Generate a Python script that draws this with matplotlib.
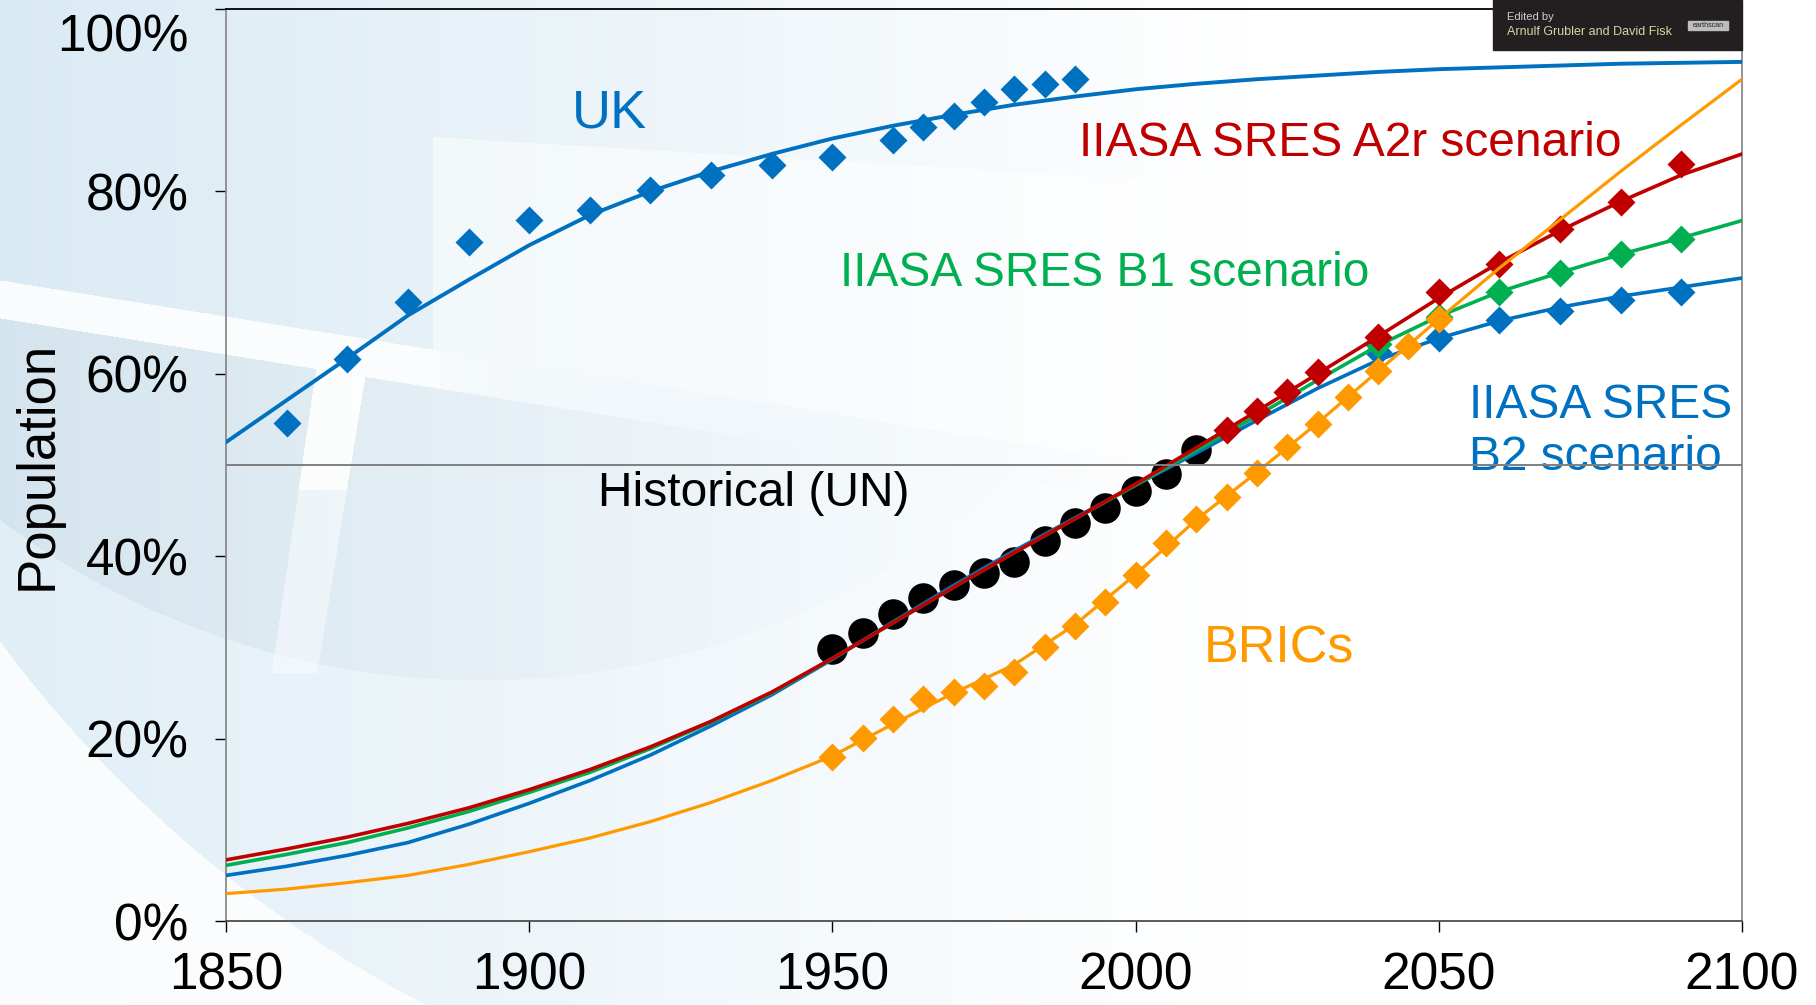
import numpy as np
import matplotlib
matplotlib.use("Agg")
import matplotlib.pyplot as plt
from matplotlib.patches import Rectangle
from matplotlib.transforms import ScaledTranslation

plt.rcParams['font.family'] = ['Liberation Sans', 'DejaVu Sans']

W, H = 1816, 1005

# trend lines, read every 10 years
line_years = list(range(1850, 2101, 10))
uk_line = [52.5, 57.1, 61.7, 66.4, 70.3, 74.1, 77.4, 80.0, 82.2, 84.1, 85.8, 87.2,
           88.4, 89.5, 90.4, 91.2, 91.8, 92.3, 92.7, 93.1, 93.4, 93.6, 93.8, 94.0,
           94.1, 94.2]
a2r_line = [6.7, 7.9, 9.2, 10.7, 12.4, 14.4, 16.6, 19.1, 21.9, 25.1, 28.8, 32.7,
            36.6, 40.4, 44.1, 47.9, 51.9, 55.9, 60.0, 64.1, 68.3, 72.2, 75.7, 78.9,
            81.8, 84.1]
b1_line = [6.1, 7.3, 8.6, 10.2, 12.0, 14.1, 16.3, 18.9, 21.8, 25.0, 28.8, 32.7,
           36.6, 40.4, 44.1, 47.8, 51.6, 55.4, 59.3, 63.1, 66.3, 69.0, 71.1, 73.1,
           74.9, 76.8]
b2_line = [5.0, 6.0, 7.2, 8.6, 10.6, 12.9, 15.4, 18.2, 21.4, 24.8, 28.7, 32.8,
           36.8, 40.6, 44.2, 47.8, 51.3, 54.9, 58.4, 61.5, 63.9, 65.8, 67.3, 68.5,
           69.5, 70.5]
brics_line = [3.0, 3.5, 4.2, 5.0, 6.2, 7.6, 9.1, 10.9, 13.0, 15.4, 18.1, 21.6,
              25.0, 28.1, 32.5, 38.0, 44.0, 49.2, 54.6, 60.3, 66.0, 71.6, 76.9,
              82.2, 87.3, 92.3]

# data points
uk_years = [1860, 1870, 1880, 1890, 1900, 1910, 1920, 1930, 1940, 1950, 1960,
            1965, 1970, 1975, 1980, 1985, 1990]
uk_pts = [54.6, 61.6, 67.9, 74.5, 76.9, 78.0, 80.1, 81.8, 82.9, 83.8, 85.6,
          87.1, 88.3, 89.8, 91.2, 91.8, 92.3]

hist_years = list(range(1950, 2011, 5))
hist_pts = [29.8, 31.6, 33.7, 35.4, 36.8, 38.2, 39.4, 41.7, 43.6, 45.3, 47.1,
            49.0, 51.6]

brics_years = list(range(1950, 2051, 5))
brics_pts = [18.0, 20.1, 22.1, 24.3, 25.1, 25.8, 27.3, 30.0, 32.4, 35.0, 37.9,
             41.4, 44.1, 46.5, 49.1, 52.0, 54.5, 57.5, 60.3, 63.1, 66.0]

a2r_years = [2015, 2020, 2025, 2030, 2040, 2050, 2060, 2070, 2080, 2090]
a2r_pts = [53.8, 55.9, 58.0, 60.2, 64.0, 69.0, 72.0, 75.9, 78.8, 83.0]

b1_years = [2040, 2050, 2060, 2070, 2080, 2090]
b1_pts = [63.3, 66.2, 69.0, 71.0, 73.1, 74.8]

b2_years = [2040, 2050, 2060, 2070, 2080, 2090]
b2_pts = [62.4, 63.9, 65.9, 66.9, 68.1, 69.0]

x_ticks = [1850, 1900, 1950, 2000, 2050, 2100]
y_ticks = [0, 20, 40, 60, 80, 100]

BLUE = '#0070c0'
RED = '#c00000'
GREEN = '#00b050'
ORANGE = '#ff9900'


def slide_background():
    yy, xx = np.mgrid[0:H, 0:W].astype(float)
    base = np.array([0.855, 0.918, 0.957])
    t = np.clip(xx / 1250.0, 0, 1)[..., None]
    img = base * (1 - t) + t

    def lighten(mask, w):
        if np.ndim(w):
            w = w[mask][:, None]
        img[mask] = img[mask] * (1 - w) + w

    band_top = 280 + 0.16 * xx
    band_bot = 318 + 0.16 * xx
    quad = (xx > 432) & (yy > 137 + 0.06 * (xx - 440)) & (yy < band_top)
    lighten(quad, 0.5)
    band = (yy > band_top) & (yy < band_bot)
    band_w = np.where(xx < 440, 0.85, 0.6 * np.clip((850 - xx) / 410.0, 0, 1))
    lighten(band, band_w)
    bowl = ((xx - 480) ** 2 + (yy + 120) ** 2 < 800 ** 2) & (yy > band_bot)
    outer = (xx - 1000) ** 2 + (yy + 100) ** 2 < 1245 ** 2
    fade = np.clip(1 - xx / 850.0, 0, 1)[..., None]
    dark = img * 0.975
    img = np.where(bowl[..., None], img * (1 - fade) + dark * fade, img)
    lighten(outer & ~bowl & (yy > band_bot), 0.2)
    lighten(~outer, 0.85)
    stripe = ((xx > 313 - 0.146 * (yy - 387)) & (xx < 365 - 0.162 * (yy - 375))
              & (yy > band_bot) & (yy < 673))
    lighten(stripe & (yy < 490), 0.9)
    lighten(stripe & (yy >= 490), 0.45)
    return np.clip(img, 0, 1)


fig = plt.figure(figsize=(W / 100, H / 100), dpi=100)
bg = fig.add_axes([0, 0, 1, 1], zorder=-5)
bg.imshow(slide_background(), aspect='auto', interpolation='bilinear')
bg.axis('off')

left, right, top, bottom = 226, 1742, 9, 921
ax = fig.add_axes([left / W, 1 - bottom / H, (right - left) / W, (bottom - top) / H])
ax.set_facecolor('none')

# historical points sit under the trend lines
ax.plot(hist_years, hist_pts, 'o', color='black', ms=22, mec='none', zorder=2)

ax.plot(line_years, uk_line, color=BLUE, lw=2.8, zorder=3)
ax.plot(uk_years, uk_pts, 'D', color=BLUE, ms=14.5, mec='none', zorder=3)

ax.plot(line_years, b2_line, color=BLUE, lw=2.6, zorder=3)
ax.plot(b2_years, b2_pts, 'D', color=BLUE, ms=14.5, mec='none', zorder=3)

ax.plot(line_years, b1_line, color=GREEN, lw=2.6, zorder=4)
ax.plot(b1_years, b1_pts, 'D', color=GREEN, ms=14.5, mec='none', zorder=4)

ax.plot(line_years, a2r_line, color=RED, lw=2.6, zorder=5)
ax.plot(a2r_years, a2r_pts, 'D', color=RED, ms=14.5, mec='none', zorder=5)

ax.plot(brics_years, brics_pts, 'D', color=ORANGE, ms=14.5, mec='none', zorder=6)
ax.plot(line_years, brics_line, color=ORANGE, lw=2.3, zorder=6)

ax.axhline(50, color='#7f7f7f', lw=1.4, zorder=8)

ax.set_xlim(1850, 2100)
ax.set_ylim(0, 100)
ax.set_xticks(x_ticks)
ax.set_xticklabels([str(v) for v in x_ticks])
ax.set_yticks(y_ticks)
ax.set_yticklabels([f'{v}%' for v in y_ticks])
ax.tick_params(axis='x', direction='out', length=8, width=1, pad=14, labelsize=37)
ax.tick_params(axis='y', direction='out', length=8, width=1, pad=19, labelsize=37)
# the top label is pushed down to stay inside the slide
top_lbl = ax.get_yticklabels()[-1]
top_lbl.set_transform(top_lbl.get_transform()
                      + ScaledTranslation(0, -0.24, fig.dpi_scale_trans))

for side in ('left', 'right'):
    ax.spines[side].set_color('#8a8a8a')
    ax.spines[side].set_linewidth(1.3)
ax.spines['bottom'].set_color('#4d4d4d')
ax.spines['bottom'].set_linewidth(1.3)
ax.spines['top'].set_color('black')
ax.spines['top'].set_linewidth(1.3)

ax.set_ylabel('Population', fontsize=38)
ax.yaxis.set_label_coords(-0.108, 0.5)

ax.text(1907.1, 88.5, 'UK', color=BLUE, fontsize=39, va='center')
ax.text(1990.7, 85.3, 'IIASA SRES A2r scenario', color=RED, fontsize=34.5, va='center')
ax.text(1951.3, 71.0, 'IIASA SRES B1 scenario', color=GREEN, fontsize=34.5, va='center')
ax.text(2055.0, 53.7, 'IIASA SRES\nB2 scenario', color=BLUE, fontsize=34.5, va='center',
        zorder=1)
ax.text(1911.4, 46.9, 'Historical (UN)', color='black', fontsize=34.5, va='center')
ax.text(2011.3, 29.8, 'BRICs', color=ORANGE, fontsize=37.5, va='center')

# book credit box in the top right corner
fig.add_artist(Rectangle((1493 / W, 1 - 50 / H), (1742 - 1493) / W, 50 / H,
                         transform=fig.transFigure, color='#231f20', zorder=10))
fig.text(1507 / W, 1 - 17 / H, 'Edited by', color='#cfcfcf', fontsize=8,
         va='center', zorder=11)
fig.text(1507 / W, 1 - 32 / H, 'Arnulf Grubler and David Fisk', color='#d8d4a4',
         fontsize=9, va='center', zorder=11)
fig.add_artist(Rectangle((1688 / W, 1 - 30 / H), 40 / W, 9 / H,
                         transform=fig.transFigure, color='#bdbdbd', zorder=11))
fig.text(1708 / W, 1 - 25.5 / H, 'earthscan', color='#231f20', fontsize=5,
         ha='center', va='center', zorder=12)

fig.savefig('out.png', dpi=100)
